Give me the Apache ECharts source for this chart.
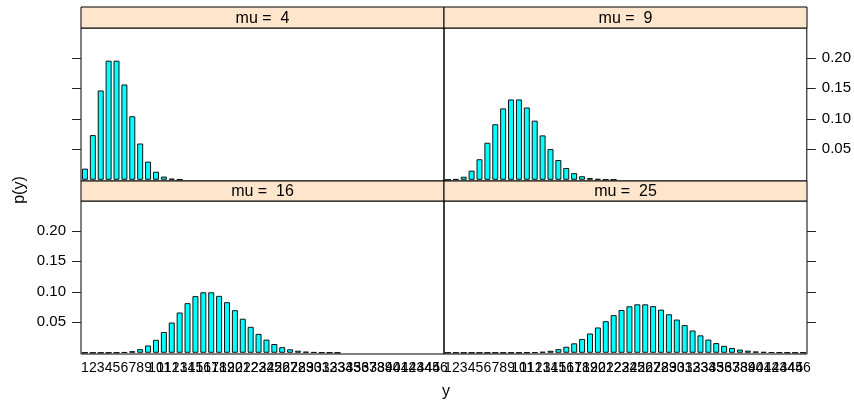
<!DOCTYPE html>
<html>
<head>
<meta charset="utf-8">
<script src="https://cdn.jsdelivr.net/npm/echarts@6/dist/echarts.min.js"></script>
<style>
html,body{margin:0;padding:0;background:#fff;}
#c{width:854px;height:402px;}
</style>
</head>
<body>
<div id="c"></div>
<script>
// categories (y values as labelled on the axis)
var categories = ['1','2','3','4','5','6','7','8','9','10','11','12','13','14','15','16','17','18','19','20',
                  '21','22','23','24','25','26','27','28','29','30','31','32','33','34','35','36','37','38','39','40',
                  '41','42','43','44','45','46'];

var panelTitles = ['mu =  4', 'mu =  9', 'mu =  16', 'mu =  25'];

// '-' = no bar for that y in this panel
var pMu4 = [0.0183,0.0733,0.1465,0.1954,0.1954,0.1563,0.1042,0.0595,0.0298,0.0132,
            0.0053,0.0019,0.0006,'-','-','-','-','-','-','-',
            '-','-','-','-','-','-','-','-','-','-','-','-','-','-','-','-','-','-','-','-',
            '-','-','-','-','-','-'];
var pMu9 = [0.0001,0.0011,0.0050,0.0150,0.0337,0.0607,0.0911,0.1171,0.1318,0.1318,
            0.1186,0.0970,0.0728,0.0504,0.0324,0.0194,0.0109,0.0058,0.0029,0.0014,
            0.0006,0.0003,'-','-','-','-','-','-','-','-','-','-','-','-','-','-','-','-','-','-',
            '-','-','-','-','-','-'];
var pMu16 = [0.0000001,0.000002,0.00001,0.0001,0.0003,0.0010,0.0026,0.0060,0.0120,0.0213,
             0.0341,0.0496,0.0661,0.0814,0.0930,0.0992,0.0992,0.0934,0.0830,0.0699,
             0.0559,0.0426,0.0310,0.0216,0.0144,0.0092,0.0057,0.0034,0.0019,0.0011,
             0.0006,0.0003,0.0001,'-','-','-','-','-','-','-','-','-','-','-','-','-'];
var pMu25 = [0.0000001,0.0000001,0.0000001,0.0000001,0.0000001,0.000001,0.000003,0.00001,0.00003,0.0001,
             0.0004,0.0008,0.0017,0.0033,0.0060,0.0099,0.0155,0.0227,0.0316,0.0415,
             0.0519,0.0618,0.0702,0.0763,0.0795,0.0795,0.0765,0.0708,0.0632,0.0545,
             0.0454,0.0366,0.0286,0.0217,0.0159,0.0114,0.0079,0.0053,0.0035,0.0022,
             0.0014,0.0009,0.0005,0.0003,0.0002,0.0001];

var yTicks = [0.05, 0.10, 0.15, 0.20];

var FONT = '"Liberation Sans", Arial, Helvetica, sans-serif';
var PL = 81, PW = 363, PH = 153;
var grids = [
  {left: PL,      top: 28,  width: PW, height: PH},
  {left: PL + PW, top: 28,  width: PW, height: PH},
  {left: PL,      top: 201, width: PW, height: PH},
  {left: PL + PW, top: 201, width: PW, height: PH}
];
var strips = [
  {x: PL,      y: 7,   h: 21},
  {x: PL + PW, y: 7,   h: 21},
  {x: PL,      y: 181, h: 20},
  {x: PL + PW, y: 181, h: 20}
];
var seriesData = [pMu4, pMu9, pMu16, pMu25];

var option = {
  animation: false,
  backgroundColor: '#ffffff',
  grid: grids.map(function (g) {
    return Object.assign({show: true, borderColor: '#000', borderWidth: 1, backgroundColor: 'transparent'}, g);
  }),
  xAxis: grids.map(function (g, i) {
    var bottom = i >= 2;
    return {
      type: 'category', gridIndex: i, data: categories,
      axisLine: {show: false}, axisTick: {show: false},
      axisLabel: {show: bottom, interval: 0, color: '#000', fontSize: 14, fontFamily: FONT, margin: 7, hideOverlap: false}
    };
  }),
  yAxis: grids.map(function (g, i) {
    var right = (i % 2) === 1;
    var labels = (i === 1 || i === 2);
    return {
      type: 'value', gridIndex: i, min: -0.002, max: 0.249,
      position: right ? 'right' : 'left',
      splitLine: {show: false},
      axisLine: {show: false},
      axisTick: {show: true, length: 9, inside: false, customValues: yTicks, lineStyle: {color: '#222', width: 1}},
      axisLabel: {show: labels, customValues: yTicks, color: '#000', fontSize: 15, fontFamily: FONT, margin: 15,
                  formatter: function (v) { return v.toFixed(2); }}
    };
  }),
  series: seriesData.map(function (d, i) {
    return {
      type: 'bar', xAxisIndex: i, yAxisIndex: i, data: d,
      barCategoryGap: '24%',
      itemStyle: {color: '#00FFFF', borderColor: '#111', borderWidth: 1},
      emphasis: {disabled: true}
    };
  }),
  graphic: strips.map(function (s, i) {
    return {
      type: 'group', children: [
        {type: 'rect', shape: {x: s.x, y: s.y, width: PW, height: s.h},
         style: {fill: '#ffe5cc', stroke: '#000', lineWidth: 1}},
        {type: 'text', x: s.x + PW / 2, y: s.y + s.h / 2 + 1,
         style: {text: panelTitles[i], fill: '#000', font: '16px ' + FONT, textAlign: 'center', textVerticalAlign: 'middle'}}
      ]
    };
  }).concat([
    {type: 'text', x: 20, y: 190, rotation: Math.PI / 2,
     style: {text: 'p(y)', fill: '#000', font: '16px ' + FONT, textAlign: 'center', textVerticalAlign: 'middle'}},
    {type: 'text', x: 446, y: 392,
     style: {text: 'y', fill: '#000', font: '16px ' + FONT, textAlign: 'center', textVerticalAlign: 'middle'}}
  ])
};

var chart = echarts.init(document.getElementById('c'), null, {renderer: 'canvas'});
chart.setOption(option);
</script>
</body>
</html>
